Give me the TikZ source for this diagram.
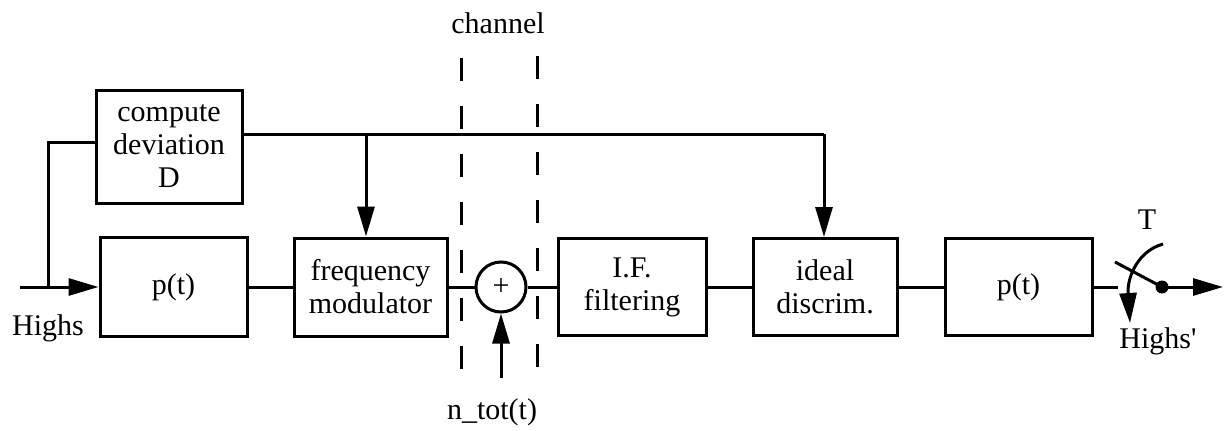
\documentclass[tikz,border=0pt]{standalone}
\usepackage{fontspec}
\setmainfont{Liberation Serif}[Ligatures=TeXOff]
\usetikzlibrary{arrows.meta}
\begin{document}
\begin{tikzpicture}[x=1pt,y=-1pt,line width=3pt,
  txt/.style={font=\fontsize{30}{33}\selectfont, inner sep=0pt},
  blk/.style={draw, rectangle, align=center, inner sep=0pt, line width=3pt,
              font=\fontsize{30}{33}\selectfont},
  arr/.style={-{Triangle[length=30pt,width=17pt]}},
  chan/.style={line width=3pt, dash pattern=on 23pt off 25pt}]
\useasboundingbox (0,0) rectangle (1224,431);
% blocks
\node[blk, minimum width=146pt, minimum height=113pt] (cd) at (169,146.5) {compute\\deviation\\D};
\node[blk, minimum width=147pt, minimum height=99pt] (p1) at (173.5,287) {p(t)};
\node[blk, minimum width=153pt, minimum height=98pt] (fm) at (370.5,287) {frequency\\modulator};
\node[draw, circle, minimum size=50pt, inner sep=0pt, line width=3pt, font=\fontsize{30}{33}\selectfont] (sum) at (501,287) {+};
\node[blk, minimum width=148pt, minimum height=97pt] (if) at (632,287) {I.F.\\filtering};
\node[blk, minimum width=144pt, minimum height=97pt] (id) at (825,287) {ideal\\discrim.};
\node[blk, minimum width=147pt, minimum height=97pt] (p2) at (1018.5,287) {p(t)};
% labels
\node[txt] (chl) at (498,23) {channel};
\node[txt] (ntl) at (492,412) {n\_tot(t)};
\node[txt, anchor=base] (hin) at (48,335) {Highs};
\node[txt] (tl) at (1147,220) {T};
\node[txt] (hout) at (1158,341) {Highs'};
% coordinates
\coordinate (in) at (20,287);
\coordinate (br) at (48,287);
\coordinate (brt) at (48,142);
\coordinate (tr) at (824,134);
\coordinate (tm) at (366,134);
\coordinate (noise) at (501,378);
\coordinate (sw0) at (1118,287);
\coordinate (swb) at (1115,262);
\coordinate (dot) at (1162,287);
\coordinate (out) at (1223,287);
\coordinate (arcs) at (1163,244);
\coordinate (arce) at (1130,323);
% input and branch
\draw[arr] (in) -- (p1.west);
\draw (br) -- (brt) -- (brt -| cd.west);
% top line
\draw (cd.east |- tr) -- (tr);
\draw[arr] (tr) -- (tr |- id.north);
\draw[arr] (tm) -- (tm |- fm.north);
% chain
\draw (p1.east) -- (fm.west);
\draw (fm.east) -- (sum.west);
\draw (sum.east) -- (if.west);
\draw (if.east) -- (id.west);
\draw (id.east) -- (p2.west);
\draw[arr] (noise) -- (sum.south);
% channel dashed lines
\draw[chan] (461,58) -- (461,372);
\draw[chan] (537,56) -- (537,372);
% switch
\draw (p2.east) -- (sw0);
\draw (swb) -- (dot);
\fill (dot) circle (6.5);
\draw[arr] (dot) -- (out);
\draw[arr] (arcs) .. controls (1138,251) and (1127,277) .. (arce);
\end{tikzpicture}
\end{document}
